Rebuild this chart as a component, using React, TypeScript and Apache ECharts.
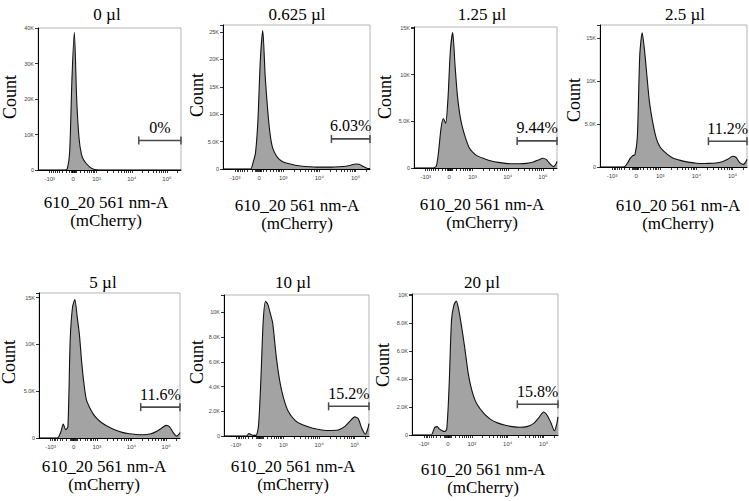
import React, { useRef, useEffect } from 'react'
import * as echarts from 'echarts'

// bin centres on the biexponential axis (axis units: -10^3 = -1, 0 = 0, 10^3 = 1, 10^4 = 2.5, 10^5 = 4)
const binPos = [-1.5, -1.0, -0.7, -0.55, -0.45, -0.35, -0.25, -0.15, -0.05, 0.05, 0.15, 0.25, 0.35, 0.45, 0.55, 0.7, 0.85, 1.0, 1.2, 1.5, 1.8, 2.1, 2.4, 2.7, 3.0, 3.3, 3.6, 3.8, 4.0, 4.15, 4.3, 4.45, 4.55, 4.6]

const count0 = [0, 0, 0, 0, 0, 0, 300, 5000, 26000, 38800, 20000, 9000, 4500, 2800, 1900, 900, 300, 80, 0, 0, 0, 0, 0, 0, 0, 0, 0, 0, 0, 0, 0, 0, 0, 0]
const count0625 = [0, 0, 0, 0, 0, 0, 1200, 3000, 9000, 20000, 25300, 17000, 11000, 6500, 4000, 2500, 1700, 1300, 1000, 700, 500, 400, 350, 350, 350, 400, 500, 700, 900, 850, 500, 200, 100, 100]
const count125 = [0, 0, 0, 200, 1800, 4200, 5300, 4800, 7500, 12500, 14500, 11000, 7800, 5800, 4500, 3200, 2200, 1700, 1300, 1000, 750, 600, 500, 450, 450, 500, 650, 850, 1050, 900, 450, 150, 400, 700]
const count25 = [0, 0, 0, 0, 100, 500, 1000, 1300, 1450, 3500, 13000, 15600, 13500, 10500, 7600, 5000, 3200, 2300, 1700, 1080, 800, 600, 480, 400, 420, 470, 650, 900, 1250, 1100, 500, 300, 600, 900]
const count5 = [0, 0, 0, 700, 1500, 900, 1200, 10500, 14000, 14800, 13000, 11000, 8000, 5700, 4100, 3200, 2550, 2100, 1650, 1200, 850, 600, 450, 380, 350, 420, 730, 1050, 1350, 1200, 600, 200, 400, 600]
const count10 = [0, 0, 0, 0, 200, 100, 50, 50, 800, 4500, 9300, 10900, 10600, 9900, 9100, 6400, 4400, 3100, 2000, 1250, 900, 700, 560, 470, 450, 480, 800, 1200, 1550, 1400, 600, 150, 600, 1000]
const count20 = [0, 0, 0, 550, 600, 420, 320, 250, 400, 3500, 8200, 9300, 9600, 9000, 8000, 6300, 4400, 3200, 2250, 1550, 1100, 850, 700, 600, 550, 600, 850, 1250, 1650, 1400, 900, 300, 800, 1300]

const panelTitles = ['0 µl', '0.625 µl', '1.25 µl', '2.5 µl', '5 µl', '10 µl', '20 µl']
const gatePercent = ['0%', '6.03%', '9.44%', '11.2%', '11.6%', '15.2%', '15.8%']
const gateStart = [2.8, 3.0, 2.9, 3.0, 2.9, 2.9, 2.9]
const gateLevel = [8300, 5500, 2900, 3000, 3300, 2400, 2200]
const yMax = [40000, 26300, 15100, 16500, 15500, 11400, 10100]
const yStep = [10000, 5000, 5000, 5000, 5000, 2000, 2000]

const xTickVals = [-1, 0, 1, 2.5, 4]
const xTickLabels = ['-10³', '0', '10³', '10⁴', '10⁵']

const counts = [count0, count0625, count125, count25, count5, count10, count20]

// layout: [left, top, width, height] of each plot box
const boxes = [
  [38, 28, 143, 142],
  [223, 25, 147, 144],
  [414, 27, 143, 141],
  [600, 25, 147, 142],
  [39, 293, 141, 145],
  [224, 295, 145, 141],
  [412, 294, 146, 141],
]
const titlePos = [[107, 14], [297, 14], [482, 14], [685, 14], [103, 282], [293, 282], [482, 282]]
const countPos = [[10, 97], [197, 95], [385, 97], [574, 100], [9, 362], [197, 362], [383, 365]]
const xNamePos = [[106, 202], [297, 205], [482, 204], [678, 205], [104, 466], [293, 466], [483, 469]]

const X_MIN = -1.5
const X_MAX = 4.6
const SERIF = '"Liberation Serif", "Times New Roman", serif'

// logicle-style tick marks along the x axis
const xTicks: number[] = [-1, -0.92, -0.85, -0.78, -0.7, -0.6, -0.48, -0.3, -0.15, -0.1, -0.06, -0.03, 0, 0.03, 0.06, 0.1, 0.15, 0.3, 0.48, 0.6, 0.7, 0.78, 0.85, 0.92]
;[1, 2.5].forEach((base) => {
  for (let k = 1; k <= 9; k++) xTicks.push(base + 1.5 * Math.log10(k))
})
xTicks.push(4, 4 + 1.5 * Math.log10(2))

function yFmt(step: number) {
  return (v: number) => {
    if (v % step !== 0) return ''
    if (v === 0) return '0'
    return v < 10000 ? (v / 1000).toFixed(1) + 'K' : v / 1000 + 'K'
  }
}

function App() {
  const chartRef = useRef(null)

  useEffect(() => {
    const chart = echarts.init(chartRef.current, null, { renderer: 'svg' })

    const grid = boxes.map((b) => ({
      left: b[0],
      top: b[1],
      width: b[2],
      height: b[3],
      show: true,
      borderColor: '#b5b5b5',
      borderWidth: 1,
    }))

    const xAxis = boxes.map((_, i) => ({
      type: 'value',
      gridIndex: i,
      min: X_MIN,
      max: X_MAX,
      axisLine: { show: true, onZero: false, lineStyle: { color: '#000', width: 1 } },
      axisTick: { show: true, customValues: xTicks, length: 3, lineStyle: { color: '#000', width: 0.8 } },
      axisLabel: {
        customValues: xTickVals,
        formatter: (v: number) => xTickLabels[xTickVals.indexOf(v)] ?? '',
        fontSize: 6,
        color: '#444',
        margin: 6,
      },
      splitLine: { show: false },
    }))

    const yAxis = boxes.map((_, i) => ({
      type: 'value',
      gridIndex: i,
      min: 0,
      max: yMax[i],
      interval: yStep[i],
      axisLine: { show: true, onZero: false, lineStyle: { color: '#000', width: 1 } },
      axisTick: { show: true, length: 3, lineStyle: { color: '#000', width: 0.8 } },
      axisLabel: { formatter: yFmt(yStep[i]), fontSize: 5.5, color: '#444', margin: 4 },
      splitLine: { show: false },
    }))

    const series: any[] = []
    counts.forEach((c, i) => {
      series.push({
        type: 'line',
        xAxisIndex: i,
        yAxisIndex: i,
        data: binPos.map((u, j) => [u, c[j]]),
        smooth: 0.25,
        symbol: 'none',
        lineStyle: { color: '#111', width: 1.1 },
        areaStyle: { color: '#a3a3a3', opacity: 1 },
      })
      series.push({
        type: 'line',
        xAxisIndex: i,
        yAxisIndex: i,
        data: [
          [gateStart[i], gateLevel[i]],
          [X_MAX, gateLevel[i]],
        ],
        symbol: 'rect',
        symbolSize: [1.5, 8],
        clip: false,
        lineStyle: { color: '#4a4a4a', width: 1.6 },
        itemStyle: { color: '#4a4a4a' },
        z: 5,
      })
      series.push({
        type: 'scatter',
        xAxisIndex: i,
        yAxisIndex: i,
        data: [[(gateStart[i] + X_MAX) / 2, gateLevel[i]]],
        symbolSize: 0,
        clip: false,
        itemStyle: { opacity: 1 },
        label: {
          show: true,
          position: 'top',
          distance: 5,
          formatter: () => gatePercent[i],
          fontFamily: SERIF,
          fontSize: 16,
          color: '#000',
        },
        z: 6,
      })
    })

    const graphic: any[] = []
    panelTitles.forEach((t, i) => {
      graphic.push({
        type: 'text',
        x: titlePos[i][0],
        y: titlePos[i][1],
        style: { text: t, fontFamily: SERIF, fontSize: 17, fill: '#000', align: 'center', verticalAlign: 'middle' },
      })
      graphic.push({
        type: 'text',
        x: countPos[i][0],
        y: countPos[i][1],
        rotation: Math.PI / 2,
        style: { text: 'Count', fontFamily: SERIF, fontSize: 18, fill: '#000', align: 'center', verticalAlign: 'middle' },
      })
      graphic.push({
        type: 'text',
        x: xNamePos[i][0],
        y: xNamePos[i][1],
        style: { text: '610_20 561 nm-A', fontFamily: SERIF, fontSize: 17, fill: '#000', align: 'center', verticalAlign: 'middle' },
      })
      graphic.push({
        type: 'text',
        x: xNamePos[i][0],
        y: xNamePos[i][1] + 18,
        style: { text: '(mCherry)', fontFamily: SERIF, fontSize: 17, fill: '#000', align: 'center', verticalAlign: 'middle' },
      })
    })

    chart.setOption({
      animation: false,
      backgroundColor: '#fff',
      grid,
      xAxis,
      yAxis,
      series,
      graphic,
    })

    return () => {
      chart.dispose()
    }
  }, [])

  return (
    <div
      ref={chartRef}
      style={{ position: 'fixed', left: 0, top: 0, width: 749, height: 501, background: '#fff' }}
    ></div>
  )
}

export default App
